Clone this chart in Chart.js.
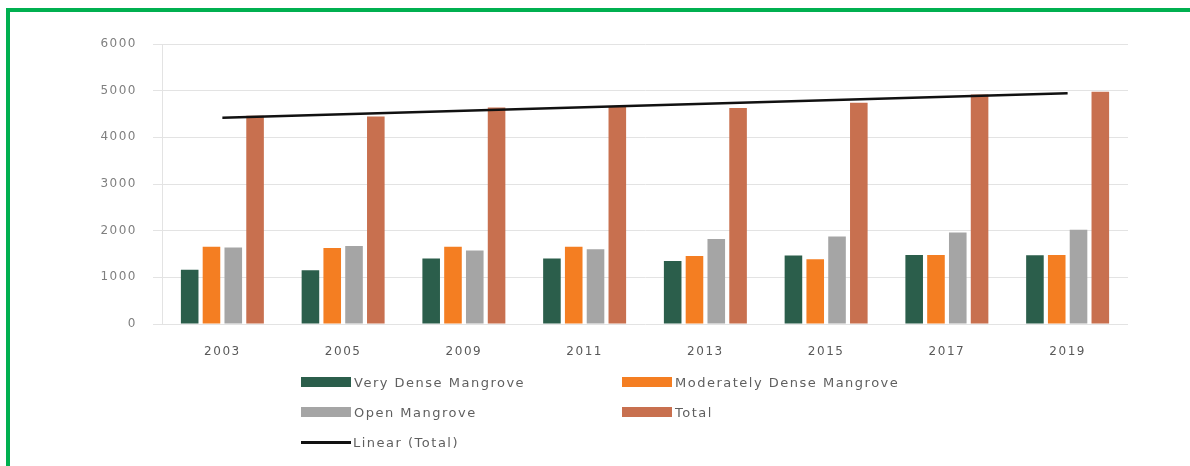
<!DOCTYPE html>
<html>
<head>
<meta charset="utf-8">
<script src="https://cdn.jsdelivr.net/npm/chart.js@4.4.0/dist/chart.umd.min.js"></script>
<style>
  html, body { margin: 0; padding: 0; background: #fff; }
  #wrap { position: relative; width: 1190px; height: 466px; overflow: hidden; }
  #frame {
    position: absolute; left: 6px; top: 8px; width: 1200px; height: 480px;
    border-left: 4px solid #00b050; border-top: 4px solid #00b050;
  }
  #chart { position: absolute; left: 0; top: 0; }
  #legend {
    position: absolute; left: 301px; top: 372px;
    display: grid; grid-template-columns: 321px 320px; grid-auto-rows: 30px;
    font-family: "DejaVu Sans", sans-serif; font-size: 13px; letter-spacing: 1.5px; color: #5f5f5f;
  }
  .item { display: flex; align-items: center; height: 20px; }
  .swatch { width: 50px; height: 10px; margin-right: 3px; }
  .line { width: 50px; height: 3px; margin-right: 2px; }
</style>
</head>
<body>
<div id="wrap">
  <canvas id="chart" width="1190" height="466"></canvas>
  <div id="legend"></div>
  <div id="frame"></div>
</div>
<script>
const years = ['2003', '2005', '2009', '2011', '2013', '2015', '2017', '2019']
const veryDense = [1160, 1150, 1405, 1405, 1350, 1470, 1480, 1475]
const moderatelyDense = [1655, 1630, 1655, 1655, 1455, 1390, 1480, 1480]
const openMangrove = [1640, 1670, 1575, 1600, 1820, 1875, 1960, 2020]
const total = [4460, 4445, 4640, 4660, 4630, 4740, 4920, 4975]
// trend line at its two ends
const linearTotal = [4420, null, null, null, null, null, null, 4945]
const yTicks = [0, 1000, 2000, 3000, 4000, 5000, 6000]

const tickFont = { family: "'DejaVu Sans', sans-serif", size: 12 }

// wide, stretched-looking tick text
const spacing = {
  id: 'spacing',
  beforeDraw(chart) {
    chart.ctx.letterSpacing = '1.5px'
  }
}

const chart = new Chart(document.getElementById('chart'), {
  type: 'bar',
  data: {
    labels: years,
    datasets: [
      { label: 'Very Dense Mangrove', data: veryDense, backgroundColor: '#2b5e4b', order: 1 },
      { label: 'Moderately Dense Mangrove', data: moderatelyDense, backgroundColor: '#f47e22', order: 1 },
      { label: 'Open Mangrove', data: openMangrove, backgroundColor: '#a5a5a5', order: 1 },
      { label: 'Total', data: total, backgroundColor: '#c8704f', order: 1 },
      {
        type: 'line',
        label: 'Linear (Total)',
        data: linearTotal,
        borderColor: '#111',
        borderWidth: 2.5,
        pointRadius: 0,
        spanGaps: true,
        fill: false,
        order: 0
      }
    ]
  },
  options: {
    responsive: false,
    animation: false,
    categoryPercentage: 0.722,
    barPercentage: 0.807,
    layout: { padding: { top: 44, right: 62, bottom: 102, left: 0 } },
    plugins: {
      legend: { display: false },
      tooltip: { enabled: false }
    },
    scales: {
      x: {
        grid: { display: false },
        border: { display: false },
        ticks: { color: '#595959', font: tickFont, padding: 13, maxRotation: 0 },
        afterFit(scale) { scale.height = 40 }
      },
      y: {
        min: 0,
        max: 6000,
        afterBuildTicks(scale) { scale.ticks = yTicks.map(v => ({ value: v })) },
        grid: { color: '#e3e3e3', tickLength: 9, lineWidth: 1 },
        border: { display: true, color: '#e3e3e3' },
        ticks: {
          color: '#7f7f7f',
          font: tickFont,
          padding: 16,
          callback: function(value) {
            return String(value)
          }
        },
        afterFit(scale) { scale.width = 162 }
      }
    }
  },
  plugins: [spacing]
})

// two-column legend like the original
const legend = document.getElementById('legend')
chart.data.datasets.forEach(ds => {
  const item = document.createElement('div')
  item.className = 'item'
  const mark = document.createElement('span')
  if (ds.type === 'line') {
    mark.className = 'line'
    mark.style.background = ds.borderColor
  } else {
    mark.className = 'swatch'
    mark.style.background = ds.backgroundColor
  }
  const text = document.createElement('span')
  text.textContent = ds.label
  item.appendChild(mark)
  item.appendChild(text)
  legend.appendChild(item)
})
</script>
</body>
</html>
